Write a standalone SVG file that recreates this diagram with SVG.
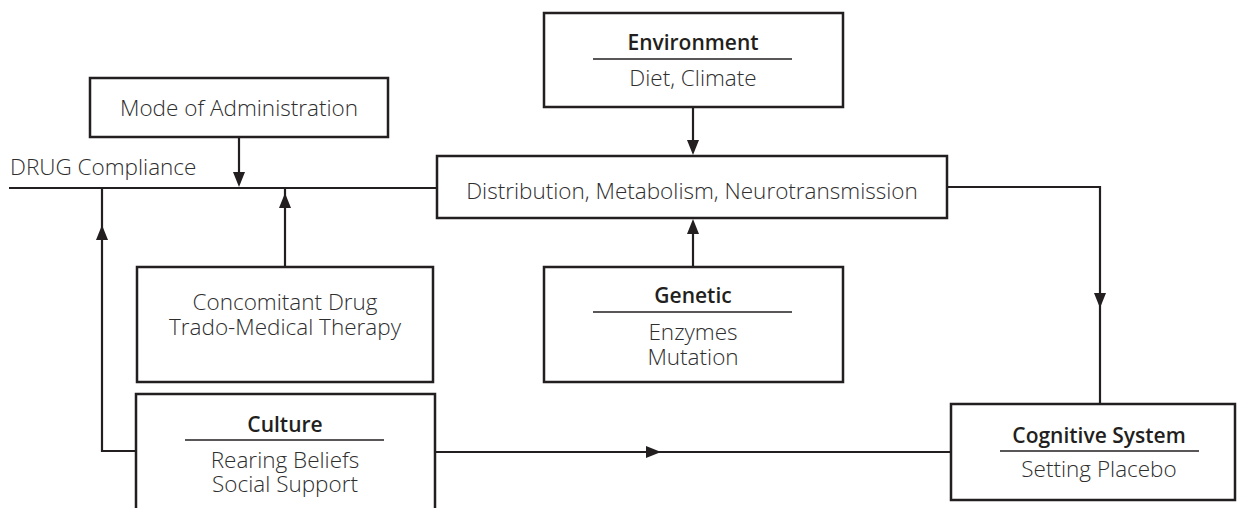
<svg xmlns="http://www.w3.org/2000/svg" width="1240" height="508" viewBox="0 0 1240 508">
<style>
.box{fill:#fff;stroke:#231f20;stroke-width:2.5}
.ln{fill:none;stroke:#231f20;stroke-width:2.2}
.ul{stroke:#231f20;stroke-width:1.3}
.ah{fill:#231f20}
text{font-family:"Open Sans",Lato,"Liberation Sans",sans-serif;font-size:22.5px;font-weight:300;fill:#2e2e2e;text-anchor:middle}
.t{font-weight:600;fill:#231f20;font-size:21px}
</style>
<rect width="1240" height="508" fill="#fff"/>
<g id="connectors">
<path class="ln" d="M9 188H437"/>
<path class="ln" d="M239 137V180"/>
<path class="ln" d="M693 107V148"/>
<path class="ln" d="M693 267V226"/>
<path class="ln" d="M285 267V188"/>
<path class="ln" d="M136 451H102V188"/>
<path class="ln" d="M947 187H1100V404"/>
<path class="ln" d="M435 452H951"/>
<polygon class="ah" points="239,187 233,172 245,172"/>
<polygon class="ah" points="693,155 687,140 699,140"/>
<polygon class="ah" points="693,219 687,234 699,234"/>
<polygon class="ah" points="285,193 279,208 291,208"/>
<polygon class="ah" points="102,225 96,240 108,240"/>
<polygon class="ah" points="1100,308 1094,293 1106,293"/>
<polygon class="ah" points="661,452 646,446 646,458"/>
</g>
<g id="drug-compliance">
<text x="10" y="175" style="text-anchor:start">DRUG Compliance</text>
</g>
<g id="mode">
<rect class="box" x="90" y="78" width="298" height="59"/>
<text x="239" y="116">Mode of Administration</text>
</g>
<g id="environment">
<rect class="box" x="544" y="13" width="299" height="94"/>
<text class="t" x="693" y="50">Environment</text>
<line class="ul" x1="593" y1="59" x2="792" y2="59"/>
<text x="693" y="86">Diet, Climate</text>
</g>
<g id="distribution">
<rect class="box" x="437" y="156" width="510" height="62"/>
<text x="692" y="199">Distribution, Metabolism, Neurotransmission</text>
</g>
<g id="concomitant">
<rect class="box" x="137" y="267" width="296" height="115"/>
<text x="285" y="310">Concomitant Drug</text>
<text x="285" y="335">Trado-Medical Therapy</text>
</g>
<g id="genetic">
<rect class="box" x="544" y="267" width="299" height="115"/>
<text class="t" x="693" y="303">Genetic</text>
<line class="ul" x1="593" y1="312" x2="792" y2="312"/>
<text x="693" y="340">Enzymes</text>
<text x="693" y="365">Mutation</text>
</g>
<g id="culture">
<rect class="box" x="136" y="394" width="299" height="130"/>
<text class="t" x="285" y="432">Culture</text>
<line class="ul" x1="185" y1="440" x2="384" y2="440"/>
<text x="285" y="468">Rearing Beliefs</text>
<text x="285" y="492">Social Support</text>
</g>
<g id="cognitive">
<rect class="box" x="951" y="404" width="284" height="96"/>
<text class="t" x="1099" y="443">Cognitive System</text>
<line class="ul" x1="1000" y1="451" x2="1199" y2="451"/>
<text x="1099" y="477">Setting Placebo</text>
</g>
</svg>
